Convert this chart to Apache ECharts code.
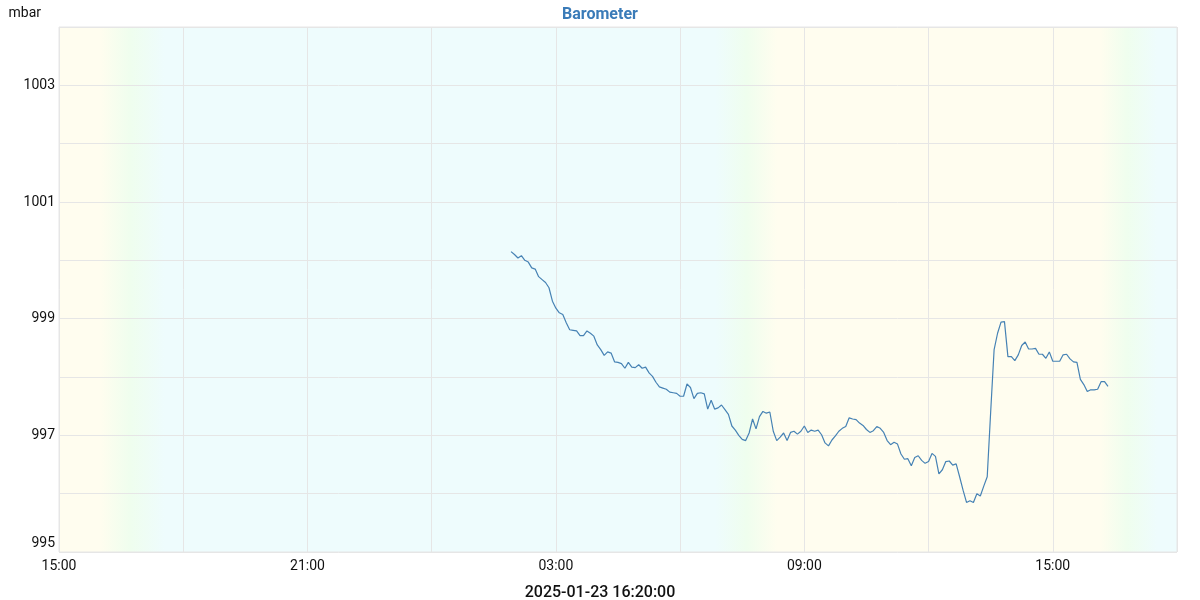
<!DOCTYPE html>
<html>
<head>
<meta charset="utf-8">
<script src="https://cdn.jsdelivr.net/npm/echarts@6/dist/echarts.min.js"></script>
<style>html,body{margin:0;padding:0;background:#fff}#c{width:1200px;height:600px}</style>
</head>
<body>
<div id="c"></div>
<script>
// ---- data ----
const titleText = 'Barometer';
const unitName = 'mbar';
const xAxisTitle = '2025-01-23 16:20:00';
const axisStart = Date.UTC(2025, 0, 22, 15, 0, 0);   // 2025-01-22 15:00
const axisEnd = Date.UTC(2025, 0, 23, 18, 0, 0);     // 2025-01-23 18:00
const seriesStart = Date.UTC(2025, 0, 23, 1, 55, 0); // first reading 01:55
const stepMinutes = 5;
const pressure = [
  1000.15,1000.10,1000.04,1000.08,1000.00,999.97,999.87,999.85,999.72,999.67,
  999.62,999.53,999.30,999.18,999.10,999.07,998.93,998.81,998.80,998.79,
  998.71,998.71,998.79,998.75,998.70,998.55,998.47,998.37,998.43,998.41,
  998.26,998.25,998.23,998.15,998.25,998.17,998.16,998.21,998.15,998.17,
  998.07,998.01,997.91,997.83,997.81,997.79,997.74,997.73,997.72,997.67,
  997.67,997.88,997.82,997.63,997.72,997.73,997.71,997.45,997.60,997.45,
  997.47,997.52,997.44,997.36,997.16,997.09,997.00,996.93,996.91,997.04,
  997.28,997.11,997.32,997.41,997.38,997.40,997.07,996.91,996.97,997.04,
  996.91,997.05,997.07,997.02,997.07,997.16,997.05,997.09,997.07,997.09,
  997.01,996.87,996.82,996.92,996.99,997.07,997.12,997.15,997.30,997.28,
  997.27,997.21,997.17,997.10,997.05,997.08,997.15,997.12,997.05,996.91,
  996.84,996.88,996.85,996.68,996.59,996.60,996.48,996.62,996.65,996.57,
  996.52,996.55,996.69,996.64,996.34,996.41,996.55,996.56,996.49,996.51,
  996.29,996.06,995.85,995.88,995.85,996.00,995.96,996.13,996.29,997.40,
  998.47,998.75,998.94,998.95,998.35,998.35,998.28,998.38,998.54,998.60,
  998.48,998.48,998.49,998.39,998.39,998.32,998.43,998.27,998.27,998.27,
  998.38,998.39,998.31,998.26,998.25,997.96,997.87,997.75,997.78,997.78,
  997.79,997.92,997.92,997.84
];
const yMin = 995, yMax = 1004, yStep = 1;
// day / night background (fractions of the time span)
const dayColor = '#fffdef', twilightColor = '#effeee', nightColor = '#eefcfd';
const bgStops = [
  [0, dayColor], [0.037, dayColor], [0.064, twilightColor], [0.095, nightColor],
  [0.587, nightColor], [0.615, twilightColor], [0.642, dayColor],
  [0.931, dayColor], [0.955, twilightColor], [0.982, nightColor], [1, nightColor]
];

const HOUR = 3600000;
const points = pressure.map((v, i) => [seriesStart + i * stepMinutes * 60000, v]);
const pad = n => (n < 10 ? '0' : '') + n;

const chart = echarts.init(document.getElementById('c'));
chart.setOption({
  animation: false,
  textStyle: { fontFamily: 'Roboto, sans-serif' },
  title: {
    text: titleText, left: 'center', top: 2,
    textStyle: { color: '#3a7bb8', fontSize: 16, fontWeight: 'bold', fontFamily: 'Roboto, sans-serif' }
  },
  grid: {
    left: 59, right: 23, top: 27, bottom: 48, show: true,
    outerBoundsMode: 'none', containLabel: false,
    borderColor: '#e6e6e6', borderWidth: 1,
    backgroundColor: {
      type: 'linear', x: 0, y: 0, x2: 1, y2: 0,
      colorStops: bgStops.map(s => ({ offset: s[0], color: s[1] }))
    }
  },
  xAxis: {
    type: 'value', min: axisStart, max: axisEnd, interval: 3 * HOUR,
    name: xAxisTitle, nameLocation: 'middle', nameGap: 33,
    nameTextStyle: { fontSize: 16, fontWeight: 500, color: '#111', padding: [0, 36, 0, 0] },
    axisLine: { show: false }, axisTick: { show: false },
    axisLabel: {
      color: '#111', fontSize: 14, margin: 7, showMaxLabel: false,
      formatter: v => {
        const d = new Date(v);
        const h = d.getUTCHours();
        return ((h - 15 + 24) % 6 === 0) ? pad(h) + ':' + pad(d.getUTCMinutes()) : '';
      }
    },
    splitLine: { show: true, lineStyle: { color: '#e6e6e6', width: 1 } }
  },
  yAxis: {
    type: 'value', min: yMin, max: yMax, interval: yStep,
    name: unitName, nameLocation: 'end', nameGap: 7,
    nameTextStyle: { fontSize: 14, color: '#111', align: 'right', padding: [0, 18, 0, 0] },
    axisLine: { show: false }, axisTick: { show: false },
    axisLabel: {
      color: '#111', fontSize: 14, margin: 4,
      formatter: v => (v % 2 === 1 ? (v === yMin ? '{lo|' + v + '}' : String(v)) : ''),
      rich: { lo: { fontSize: 14, color: '#111', padding: [0, 0, 18, 0] } }
    },
    splitLine: { show: true, lineStyle: { color: '#e6e6e6', width: 1 } }
  },
  series: [{
    type: 'line', data: points, showSymbol: false, symbol: 'none',
    lineStyle: { color: '#4682b4', width: 1.2 },
    itemStyle: { color: '#4682b4' }
  }]
});
</script>
</body>
</html>
